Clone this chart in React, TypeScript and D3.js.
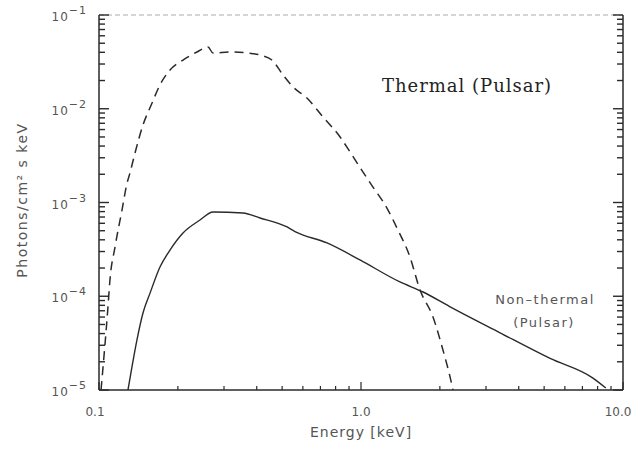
import React from "react";
import * as d3 from "d3";

const W = 642;
const H = 451;

const thermalE = [0.1018, 0.1082, 0.1101, 0.1151, 0.1224, 0.1279, 0.1313, 0.1372, 0.1472, 0.1594, 0.1709, 0.1866, 0.2092, 0.2366, 0.2607, 0.2723, 0.3162, 0.3705, 0.4117, 0.4571, 0.504, 0.55, 0.622, 0.716, 0.832, 0.908, 1.018, 1.111, 1.256, 1.372, 1.538, 1.679, 1.883, 2.055, 2.187, 2.245];
const thermalF = [1e-5, 7.68e-5, 1.49e-4, 3.35e-4, 8.3e-4, 1.6e-3, 2.07e-3, 3.37e-3, 6.7e-3, 1.15e-2, 1.8e-2, 2.59e-2, 3.31e-2, 4.03e-2, 4.56e-2, 3.93e-2, 4.03e-2, 3.93e-2, 3.74e-2, 3.31e-2, 2.29e-2, 1.71e-2, 1.3e-2, 8.17e-3, 5.0e-3, 3.46e-3, 2.11e-3, 1.46e-3, 8.73e-4, 5.34e-4, 2.62e-4, 1.17e-4, 6.0e-5, 2.67e-5, 1.38e-5, 1e-5];

const nonThermalE = [0.129, 0.1336, 0.1396, 0.1472, 0.1566, 0.1709, 0.1866, 0.2092, 0.2429, 0.2723, 0.3544, 0.4117, 0.522, 0.56, 0.742, 0.991, 1.408, 1.726, 2.18, 3.38, 5.27, 7.68, 8.6];
const nonThermalF = [1e-5, 1.76e-5, 3.42e-5, 6.62e-5, 1.08e-4, 2.05e-4, 3.11e-4, 4.73e-4, 6.5e-4, 7.92e-4, 7.73e-4, 6.84e-4, 5.48e-4, 4.9e-4, 3.7e-4, 2.44e-4, 1.42e-4, 1.11e-4, 7.76e-5, 4.1e-5, 2.17e-5, 1.34e-5, 1.05e-5];

const xTickValues = [0.1, 1, 10];
const xTickLabels = ["0.1", "1.0", "10.0"];
const yTickExponents = [-1, -2, -3, -4, -5];

const xTitle = "Energy [keV]";
const yTitle = "Photons/cm² s keV";
const thermalLabel = "Thermal (Pulsar)";
const nonThermalLabel1 = "Non\u2013thermal";
const nonThermalLabel2 = "(Pulsar)";

const left = 99, right = 623, top = 15, bottom = 390;
const ink = "#2a2a2a";
const textInk = "#555";

export default function App() {
  const x = d3.scaleLog().domain([0.1, 10]).range([left, right]);
  const y = d3.scaleLog().domain([1e-5, 1e-1]).range([bottom, top]);

  const mkPath = (es: number[], fs: number[]) =>
    d3
      .line<[number, number]>()
      .x((d) => x(d[0]))
      .y((d) => y(d[1]))
      .curve(d3.curveMonotoneX)(es.map((e, i) => [e, fs[i]] as [number, number])) || "";

  const thermalPath = mkPath(thermalE, thermalF);
  const ntPath = mkPath(nonThermalE, nonThermalF);

  const yMajor = yTickExponents.map((e) => Math.pow(10, e));
  const yMinor: number[] = [];
  for (let e = -5; e < -1; e++) {
    for (let m = 2; m <= 9; m++) yMinor.push(m * Math.pow(10, e));
  }
  const xMinor: number[] = [];
  for (let e = -1; e < 1; e++) {
    for (let m = 2; m <= 9; m++) xMinor.push(m * Math.pow(10, e));
  }

  const yTicks = [
    ...yMajor.map((v) => ({ v, len: 10 })),
    ...yMinor.map((v) => ({ v, len: 6 })),
  ];
  const xTicks = [
    ...xTickValues.map((v) => ({ v, len: 8 })),
    ...xMinor.map((v) => ({ v, len: 4 })),
  ];

  return (
    <svg
      width={W}
      height={H}
      style={{ position: "absolute", left: 0, top: 0, background: "#fff" }}
      fontFamily="DejaVu Sans, sans-serif"
    >
      <defs>
        <clipPath id="plot">
          <rect x={left} y={top} width={right - left} height={bottom - top} />
        </clipPath>
      </defs>

      {/* frame */}
      <line x1={left} y1={top} x2={right} y2={top} stroke="#aaa" strokeWidth={1} strokeDasharray="5 3" />
      <line x1={left} y1={bottom} x2={right} y2={bottom} stroke={ink} strokeWidth={1.5} />
      <line x1={left} y1={top} x2={left} y2={bottom} stroke={ink} strokeWidth={1.5} />
      <line x1={right} y1={top} x2={right} y2={bottom} stroke={ink} strokeWidth={1.5} />

      {/* ticks as rects */}
      {yTicks.map((t, i) => (
        <g key={"yt" + i}>
          <rect x={left} y={y(t.v) - 0.7} width={t.len} height={1.4} fill={ink} />
          <rect x={right - t.len} y={y(t.v) - 0.7} width={t.len} height={1.4} fill={ink} />
        </g>
      ))}
      {xTicks.map((t, i) => (
        <rect key={"xt" + i} x={x(t.v) - 0.6} y={bottom - t.len} width={1.2} height={t.len} fill={ink} />
      ))}

      {/* y tick labels */}
      {yTickExponents.map((e) => {
        const yy = y(Math.pow(10, e));
        return (
          <text key={"yl" + e} x={87} y={yy + 6} fontSize={12} fill={textInk} textAnchor="end" letterSpacing={1}>
            10
            <tspan dy={-7} fontSize={11}>
              {"\u2212" + Math.abs(e)}
            </tspan>
          </text>
        );
      })}

      {/* x tick labels */}
      {xTickValues.map((v, i) => (
        <text key={"xl" + i} x={x(v) - (i === 0 ? 4 : i === 2 ? 5 : 0)} y={416} fontSize={12} fill={textInk} textAnchor="middle">
          {xTickLabels[i]}
        </text>
      ))}

      {/* axis titles */}
      <text x={361} y={437} fontSize={14} fill={textInk} textAnchor="middle" letterSpacing={1}>
        {xTitle}
      </text>
      <text
        transform={`translate(27, 200) rotate(-90)`}
        fontSize={14}
        fill={textInk}
        textAnchor="middle"
        letterSpacing={1.5}
      >
        {yTitle}
      </text>

      {/* curves */}
      <g clipPath="url(#plot)">
        <path d={thermalPath} fill="none" stroke={ink} strokeWidth={1.5} strokeDasharray="9 6" />
        <path d={ntPath} fill="none" stroke={ink} strokeWidth={1.4} />
      </g>

      {/* annotations */}
      <text x={467} y={92} fontSize={18} fill="#222" textAnchor="middle" fontFamily="DejaVu Serif, serif" letterSpacing={1}>
        {thermalLabel}
      </text>
      <text x={545} y={304} fontSize={13} fill={textInk} textAnchor="middle" letterSpacing={1.5}>
        {nonThermalLabel1}
      </text>
      <text x={544} y={327} fontSize={13} fill={textInk} textAnchor="middle" letterSpacing={1.5}>
        {nonThermalLabel2}
      </text>
    </svg>
  );
}
